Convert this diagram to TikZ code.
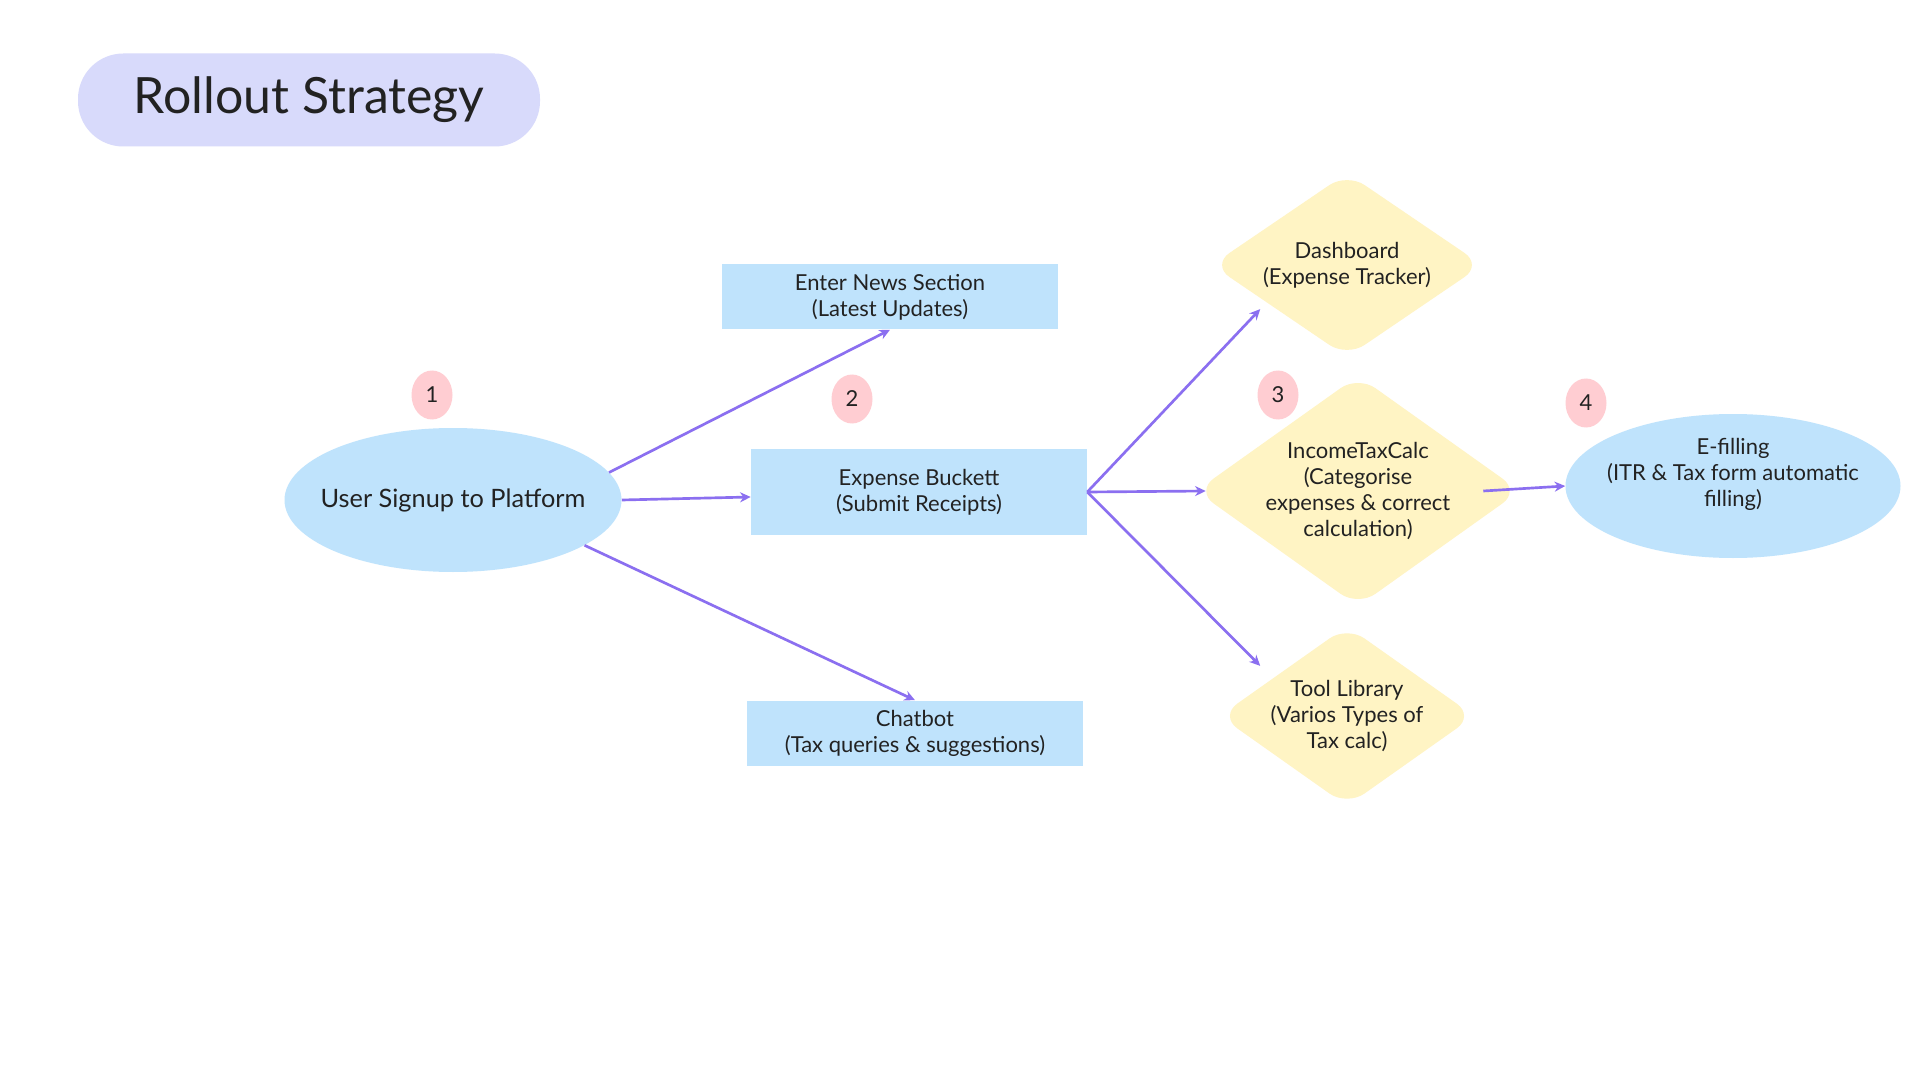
\documentclass[tikz,border=0pt]{standalone}
\usepackage{fontspec}
\setmainfont{Lato}
\usetikzlibrary{shapes.geometric, arrows.meta, positioning}
\definecolor{pillblue}{HTML}{D8DAFB}
\definecolor{stepblue}{HTML}{BFE3FC}
\definecolor{stepyellow}{HTML}{FFF4C4}
\definecolor{badgepink}{HTML}{FFCDD2}
\definecolor{flowpurple}{HTML}{8B6FF0}
\definecolor{inkdark}{HTML}{222222}
\tikzset{
x=0.75pt, y=-0.75pt, % one unit = one pixel of the slide
every node/.style={text=inkdark, align=center, font=\fontsize{16.5}{19.5}\selectfont},
flow/.style={draw=flowpurple, line width=2pt, -{Stealth[length=8pt, width=7.5pt]}}, % purple connectors
pill/.style={fill=pillblue, rounded corners=34pt, minimum width=346.5pt, minimum height=69.75pt, font=\fontsize{37.5}{44}\selectfont},
oval/.style={ellipse, fill=stepblue, inner xsep=-30pt, inner ysep=0pt},
stepbox/.style={rectangle, fill=stepblue, minimum width=252pt},
gem/.style={diamond, fill=stepyellow, rounded corners=16pt, aspect=1.45, inner sep=-6pt},
badge/.style={ellipse, fill=badgepink, minimum width=30.75pt, minimum height=36.75pt, inner sep=0pt},
}
\begin{document}
\begin{tikzpicture}
    \useasboundingbox[fill=white] (0,0) rectangle (1920,1080);
    \node[pill] (title) at (309,100) {Rollout Strategy};
    % main steps
    \node[oval, minimum width=252.75pt, minimum height=108pt, font=\fontsize{19}{22}\selectfont] (signup) at (453,500) {User Signup to Platform};
    \node[stepbox, minimum height=48.75pt] (news) at (890,297) {Enter News Section\\(Latest Updates)};
    \node[stepbox, minimum height=64.5pt] (expense) at (919,492) {Expense Buckett\\(Submit Receipts)};
    \node[stepbox, minimum height=48.75pt] (chatbot) at (915,733) {Chatbot\\(Tax queries \& suggestions)};
    \node[gem, minimum width=203pt, minimum height=138pt] (dash) at (1347,265) {Dashboard\\(Expense Tracker)};
    \node[gem, minimum width=243pt, minimum height=173pt] (income) at (1358,491) {IncomeTaxCalc\\(Categorise\\expenses \& correct\\calculation)};
    \node[gem, minimum width=191pt, minimum height=135pt] (tool) at (1347,716) {Tool Library\\(Varios Types of\\Tax calc)};
    \node[oval, minimum width=251.25pt, minimum height=108pt,
      label={[name=efiletext, yshift=8.5pt]center:{E-filling\\(ITR \& Tax form automatic\\filling)}}] (efile) at (1733,486) {};
    % numbered badges
    \node[badge] (b1) at (432,395) {1};
    \node[badge] (b2) at (852,399) {2};
    \node[badge] (b3) at (1278,395) {3};
    \node[badge] (b4) at (1586,403) {4};
    % connectors
    \draw[flow] (signup.10) -- (news.south);
    \draw[flow] (signup.east) -- ([yshift=-3.75pt]expense.west);
    \draw[flow] (signup.-19) -- (chatbot.north);
    \draw[flow] (expense.east) -- ([shift={(-19,-2)}]dash.south west);
    \draw[flow] (expense.east) -- ([xshift=7.5pt]income.west);
    \draw[flow] (expense.east) -- ([shift={(-23,-5)}]tool.north west);
    \draw[flow] ([xshift=-27.75pt]income.east) -- (efile.west);
\end{tikzpicture}
\end{document}
